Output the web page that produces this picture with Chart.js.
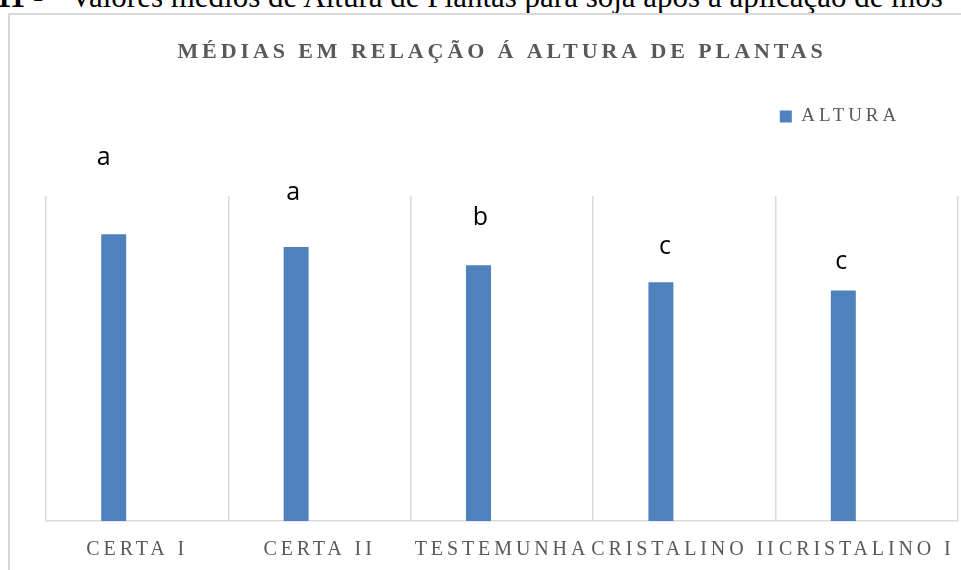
<!DOCTYPE html>
<html lang="pt">
<head>
<meta charset="utf-8">
<title>Médias em relação à altura de plantas</title>
<script src="https://cdn.jsdelivr.net/npm/chart.js@4"></script>
<style>
  html, body { margin: 0; padding: 0; width: 961px; height: 570px; overflow: hidden; background: #fff; }
  .cap { position: absolute; top: -19px; font: 31px/31px "Liberation Serif", "Times New Roman", serif; color: #000; white-space: nowrap; }
  .frame { position: absolute; left: 8px; top: 13px; width: 1000px; height: 600px; border-left: 2px solid #d9d9d9; border-top: 2px solid #d9d9d9; }
  #chartAltura { position: absolute; left: 0; top: 0; }
</style>
</head>
<body>
<div class="cap" style="left:-4px"><b>11</b> -</div>
<div class="cap" style="left:70px">Valores médios de Altura de Plantas para soja após a aplicação de mos</div>
<div class="frame"></div>
<canvas id="chartAltura" width="961" height="570"></canvas>
<script>
const CATEGORIES = ['CERTA I', 'CERTA II', 'TESTEMUNHA', 'CRISTALINO II', 'CRISTALINO I'];
const ALTURA = [88.2, 84.3, 78.7, 73.5, 70.9];
// letras do teste de médias e a altura (em unidades do eixo) onde ficam
const LETTERS = ['a', 'a', 'b', 'c', 'c'];
const LETTER_LEVEL = [109.5, 98.7, 91.1, 82.2, 77.5];
const LETTER_DX = [-10, -3, 2, 4, -2];

const SERIF = '"Liberation Serif", "Times New Roman", serif';
const GREY = '#595959';
const GRID = '#d9d9d9';
const BLUE = '#4F81BD';

// espaçamento entre letras como no gráfico do Excel
const spacing = {
  id: 'spacing',
  beforeLayout(chart) { chart.ctx.letterSpacing = '3.9px'; },
  beforeDraw(chart) { chart.ctx.letterSpacing = '3.9px'; }
};

const letters = {
  id: 'letters',
  afterDatasetsDraw(chart) {
    const { ctx, scales: { y } } = chart;
    const bars = chart.getDatasetMeta(0).data;
    ctx.save();
    ctx.letterSpacing = '0px';
    ctx.font = '25px "Open Sans", sans-serif';
    ctx.fillStyle = '#000';
    ctx.textAlign = 'center';
    ctx.textBaseline = 'alphabetic';
    bars.forEach((bar, i) => {
      ctx.fillText(LETTERS[i], bar.x + LETTER_DX[i], y.getPixelForValue(LETTER_LEVEL[i]));
    });
    ctx.restore();
  }
};

new Chart(document.getElementById('chartAltura'), {
  type: 'bar',
  data: {
    labels: CATEGORIES,
    datasets: [
      { label: 'ALTURA', data: ALTURA, backgroundColor: BLUE },
      { label: 'letras', data: CATEGORIES.map(() => null), backgroundColor: 'transparent' }
    ]
  },
  options: {
    responsive: false,
    animation: false,
    datasets: { bar: { categoryPercentage: 0.515, barPercentage: 0.532 } },
    layout: { padding: { left: 46, right: 3, top: 0, bottom: 8 } },
    plugins: {
      title: {
        display: true,
        text: 'MÉDIAS EM RELAÇÃO Á ALTURA DE PLANTAS',
        color: GREY,
        font: { family: SERIF, size: 22, weight: 'bold' },
        padding: { top: 39, bottom: -16.4 }
      },
      subtitle: { display: true, text: '', weight: 0, font: { size: 10 }, padding: { top: 48, bottom: 0 } },
      legend: {
        align: 'end',
        labels: {
          color: GREY,
          font: { family: SERIF, size: 19 },
          boxWidth: 12,
          boxHeight: 12,
          padding: 58,
          filter: item => item.datasetIndex === 0
        }
      },
      tooltip: { enabled: false }
    },
    scales: {
      x: {
        grid: { color: GRID, lineWidth: 1.5, tickLength: 17, tickColor: 'rgba(0,0,0,0)' },
        border: { color: GRID, width: 1.5 },
        ticks: { color: GREY, font: { family: SERIF, size: 20 }, padding: 0, autoSkip: false, maxRotation: 0 }
      },
      y: { display: false, min: 0, max: 100 }
    }
  },
  plugins: [spacing, letters]
});
</script>
</body>
</html>
